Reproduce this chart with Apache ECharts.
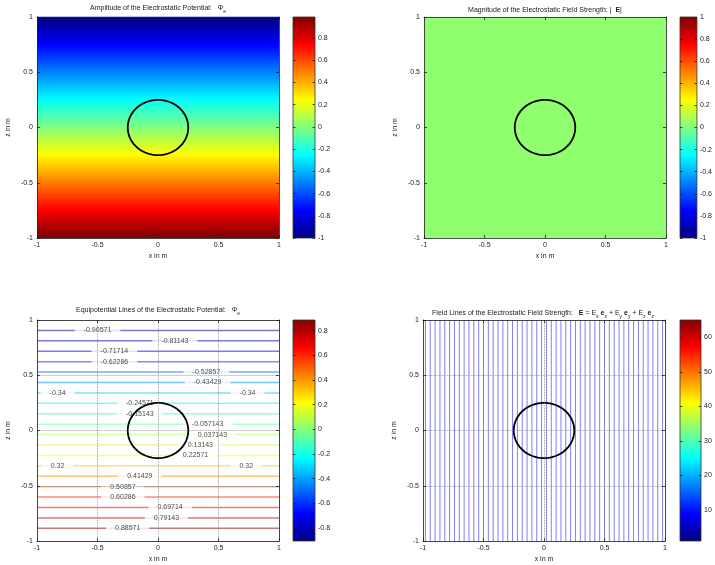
<!DOCTYPE html>
<html><head><meta charset="utf-8">
<script src="https://cdn.jsdelivr.net/npm/echarts@6/dist/echarts.min.js"></script>
<style>html,body{margin:0;padding:0;background:#fff}#c{width:715px;height:565px}</style>
</head><body><div id="c"></div>
<script>
// ---------------- data ----------------
const axisTickValues = [-1, -0.5, 0, 0.5, 1];
// potential samples (z position -> potential value) for panel 1
const potentialZ   = [1, 0.8, 0.6, 0.4, 0.2, 0, -0.2, -0.4, -0.6, -0.8, -1];
const potentialPhi = [-1, -0.8, -0.6, -0.4, -0.2, 0, 0.2, 0.4, 0.6, 0.8, 1];
// uniform field magnitude colour value (panel 2, on its colour scale)
const fieldMagnitudeValue = 0.03;
// equipotential levels and their z positions (panel 3)
const contourLevels = [-0.90571, -0.81143, -0.71714, -0.62286, -0.52857, -0.43429, -0.34, -0.24571, -0.15143, -0.057143,
                       0.037143, 0.13143, 0.22571, 0.32, 0.41429, 0.50857, 0.60286, 0.69714, 0.79143, 0.88571];
const contourZ      = [0.90571, 0.81143, 0.71714, 0.62286, 0.52857, 0.43429, 0.34, 0.24571, 0.15143, 0.057143,
                       -0.037143, -0.13143, -0.22571, -0.32, -0.41429, -0.50857, -0.60286, -0.69714, -0.79143, -0.88571];
// contour label placements: level index and x position
const labelLevelIndex = [0, 1, 2, 3, 4, 5, 6, 6, 7, 8, 9, 10, 11, 12, 13, 13, 14, 15, 16, 17, 18, 19];
const labelX          = [-0.50, 0.14, -0.36, -0.36, 0.40, 0.41, -0.83, 0.74, -0.15, -0.15, 0.41, 0.45, 0.35, 0.31, -0.83, 0.73, -0.15, -0.29, -0.29, 0.10, 0.07, -0.25];
// field line x positions (panel 4)
const fieldLineX = [-0.98, -0.94, -0.90, -0.86, -0.82, -0.78, -0.74, -0.70, -0.66, -0.62, -0.58, -0.54, -0.50, -0.46, -0.42, -0.38, -0.34,
                    -0.30, -0.26, -0.22, -0.18, -0.14, -0.10, -0.06, -0.02, 0.02, 0.06, 0.10, 0.14, 0.18, 0.22, 0.26, 0.30, 0.34,
                    0.38, 0.42, 0.46, 0.50, 0.54, 0.58, 0.62, 0.66, 0.70, 0.74, 0.78, 0.82, 0.86, 0.90, 0.94, 0.98];
// conductor circle (centre x, centre z, radius)
const circle = [0, 0, 0.25];
// colour bars: ranges and tick labels
const cb1Range = [-1, 0.99];
const cb1Ticks = [-1, -0.8, -0.6, -0.4, -0.2, 0, 0.2, 0.4, 0.6, 0.8];
const cb2Range = [-1, 1];
const cb2Ticks = [-1, -0.8, -0.6, -0.4, -0.2, 0, 0.2, 0.4, 0.6, 0.8, 1];
const cb3Range = [-0.90571, 0.88571];
const cb3Ticks = [-0.8, -0.6, -0.4, -0.2, 0, 0.2, 0.4, 0.6, 0.8];
const cb4Range = [1, 65];
const cb4Ticks = [10, 20, 30, 40, 50, 60];
const fieldLineValue = 8;

// ---------------- helpers ----------------
const FONT = '"Liberation Sans", Arial, sans-serif';
const TXT = '#222';
function clamp(v){ return Math.max(0, Math.min(1, v)); }
function jetRGB(t){
  t = clamp(t);
  return [clamp(1.5 - Math.abs(4*t - 3)), clamp(1.5 - Math.abs(4*t - 2)), clamp(1.5 - Math.abs(4*t - 1))];
}
function rgbStr(c, fade){
  fade = fade || 0;
  const f = x => Math.round((x*(1-fade) + fade) * 255);
  return 'rgb(' + f(c[0]) + ',' + f(c[1]) + ',' + f(c[2]) + ')';
}
function jetColor(v, range, fade){ return rgbStr(jetRGB((v - range[0])/(range[1]-range[0])), fade); }
function gradStops(v0, v1, range, n){
  const s = [];
  for (let i = 0; i <= n; i++){
    const v = v0 + (v1 - v0) * i / n;
    s.push({offset: i/n, color: jetColor(v, range)});
  }
  return s;
}

const PW = 242, PH = 221;
const plotPos = [{left:37, top:17}, {left:424, top:17}, {left:37, top:320}, {left:423, top:320}];
const cbPos = [{left:293, top:17, w:22}, {left:680, top:17, w:21}, {left:293, top:320, w:22}, {left:680, top:320, w:21}];
const cbRanges = [cb1Range, cb2Range, cb3Range, cb4Range];
const cbTicks = [cb1Ticks, cb2Ticks, cb3Ticks, cb4Ticks];
const gridOn = [false, false, true, true];

const grids = [], xAxes = [], yAxes = [];
const lineCol = '#222';
plotPos.forEach((p, i) => {
  grids.push({left:p.left, top:p.top, width:PW, height:PH});
  xAxes.push({gridIndex:i, type:'value', min:-1, max:1, interval:0.5, position:'bottom', z:10,
    axisLine:{show:true, onZero:false, lineStyle:{color:lineCol, width:0.8}},
    axisTick:{show:true, inside:true, length:3, lineStyle:{color:lineCol, width:0.8}},
    axisLabel:{fontSize:7, color:TXT, margin:4, fontFamily:FONT, showMinLabel:true, showMaxLabel:true},
    splitLine:{show:gridOn[i], lineStyle:{type:'dotted', color:'#888', width:0.8}},
    name:'x in m', nameLocation:'middle', nameGap:15, nameTextStyle:{fontSize:7, color:TXT, fontFamily:FONT}});
  xAxes.push({gridIndex:i, type:'value', min:-1, max:1, interval:0.5, position:'top', z:10,
    axisLine:{show:true, onZero:false, lineStyle:{color:lineCol, width:0.8}},
    axisTick:{show:true, inside:true, length:3, lineStyle:{color:lineCol, width:0.8}},
    axisLabel:{show:false}, splitLine:{show:false}});
  yAxes.push({gridIndex:i, type:'value', min:-1, max:1, interval:0.5, position:'left', z:10,
    axisLine:{show:true, onZero:false, lineStyle:{color:lineCol, width:0.8}},
    axisTick:{show:true, inside:true, length:3, lineStyle:{color:lineCol, width:0.8}},
    axisLabel:{fontSize:7, color:TXT, margin:4, fontFamily:FONT, showMinLabel:true, showMaxLabel:true},
    splitLine:{show:gridOn[i], lineStyle:{type:'dotted', color:'#888', width:0.8}},
    name:'z in m', nameLocation:'middle', nameRotate:90, nameGap:25, nameTextStyle:{fontSize:7, color:TXT, fontFamily:FONT}});
  yAxes.push({gridIndex:i, type:'value', min:-1, max:1, interval:0.5, position:'right', z:10,
    axisLine:{show:true, onZero:false, lineStyle:{color:lineCol, width:0.8}},
    axisTick:{show:true, inside:true, length:3, lineStyle:{color:lineCol, width:0.8}},
    axisLabel:{show:false}, splitLine:{show:false}});
});
cbPos.forEach((p, j) => {
  const gi = 4 + j;
  const r = cbRanges[j];
  grids.push({left:p.left, top:p.top, width:p.w, height:PH});
  xAxes.push({gridIndex:gi, type:'value', min:0, max:1, show:false});
  yAxes.push({gridIndex:gi, type:'value', min:r[0], max:r[1], position:'left', z:10,
    axisLine:{show:false}, splitLine:{show:false},
    axisTick:{show:true, inside:true, length:2.5, customValues:cbTicks[j], lineStyle:{color:lineCol, width:0.8}},
    axisLabel:{show:false}});
  yAxes.push({gridIndex:gi, type:'value', min:r[0], max:r[1], position:'right', z:10,
    axisLine:{show:false}, splitLine:{show:false},
    axisTick:{show:true, inside:true, length:2.5, customValues:cbTicks[j], lineStyle:{color:lineCol, width:0.8}},
    axisLabel:{show:true, customValues:cbTicks[j], fontSize:7, color:TXT, margin:3, fontFamily:FONT}});
});

const series = [];
// panel 1: potential field bands
const bandData = [];
for (let i = 0; i < potentialZ.length - 1; i++) bandData.push([potentialZ[i], potentialZ[i+1], potentialPhi[i], potentialPhi[i+1]]);
series.push({type:'custom', xAxisIndex:0, yAxisIndex:0, silent:true, animation:false, z:1,
  data: bandData,
  renderItem: (params, api) => {
    const zt = api.value(0), zb = api.value(1), pt = api.value(2), pb = api.value(3);
    const a = api.coord([-1, zt]), b = api.coord([1, zb]);
    return {type:'rect', shape:{x:a[0], y:a[1]-0.3, width:b[0]-a[0], height:b[1]-a[1]+0.6},
      style:{fill:new echarts.graphic.LinearGradient(0,0,0,1, gradStops(pt, pb, cb1Range, 8)), stroke:null}};
  }});
// panel 2: uniform magnitude
series.push({type:'custom', xAxisIndex:2, yAxisIndex:2, silent:true, animation:false, z:1,
  data: [[fieldMagnitudeValue]],
  renderItem: (params, api) => {
    const a = api.coord([-1, 1]), b = api.coord([1, -1]);
    return {type:'rect', shape:{x:a[0], y:a[1], width:b[0]-a[0], height:b[1]-a[1]},
      style:{fill: jetColor(api.value(0), cb2Range)}};
  }});
// panel 3: contour lines
contourLevels.forEach((lv, k) => {
  series.push({type:'line', xAxisIndex:4, yAxisIndex:4, silent:true, animation:false, symbol:'none', z:2,
    data:[[-1, contourZ[k]], [1, contourZ[k]]],
    lineStyle:{color: jetColor(lv, cb3Range, 0.48), width:1.5}});
});
series.push({type:'scatter', xAxisIndex:4, yAxisIndex:4, silent:true, animation:false, z:4,
  symbol:'rect', symbolSize:1, itemStyle:{color:'rgba(0,0,0,0)'},
  data: labelLevelIndex.map((li, n) => ({value:[labelX[n], contourZ[li]], label:{formatter: String(contourLevels[li])}})),
  label:{show:true, position:'inside', fontSize:7, color:TXT, fontFamily:FONT, backgroundColor:'#fff', padding:[1,9]}});
// panel 4: field lines
series.push({type:'custom', xAxisIndex:6, yAxisIndex:6, silent:true, animation:false, z:2,
  data: fieldLineX.map(x => [x, fieldLineValue]),
  renderItem: (params, api) => {
    const a = api.coord([api.value(0), -1]), b = api.coord([api.value(0), 1]);
    return {type:'line', shape:{x1:a[0], y1:a[1], x2:b[0], y2:b[1]},
      style:{stroke: jetColor(api.value(1), cb4Range, 0.5), lineWidth:1}};
  }});
// circles on all 4 panels
[0, 2, 4, 6].forEach(ai => {
  series.push({type:'custom', xAxisIndex:ai, yAxisIndex:ai, silent:true, animation:false, z:6,
    data:[circle],
    renderItem: (params, api) => {
      const cx = api.value(0), cz = api.value(1), r = api.value(2);
      const pts = [];
      for (let k = 0; k <= 96; k++){ const t = 2*Math.PI*k/96; pts.push(api.coord([cx + r*Math.cos(t), cz + r*Math.sin(t)])); }
      return {type:'polyline', shape:{points:pts}, style:{stroke:'#000', lineWidth:1.8, fill:null}};
    }});
});
// colour bars
cbRanges.forEach((r, j) => {
  series.push({type:'custom', xAxisIndex:8+j, yAxisIndex:8+2*j, silent:true, animation:false, z:1,
    data:[[0, r[0], r[1]]],
    renderItem: (params, api) => {
      const lo = api.value(1), hi = api.value(2);
      const a = api.coord([0, hi]), b = api.coord([1, lo]);
      return {type:'rect', shape:{x:a[0], y:a[1], width:b[0]-a[0], height:b[1]-a[1]},
        style:{fill:new echarts.graphic.LinearGradient(0,1,0,0, gradStops(lo, hi, r, 32)), stroke:'#333', lineWidth:0.8}};
    }});
});

const rich = {
  n:{fontSize:7, color:TXT, fontFamily:FONT, fontWeight:'normal', lineHeight:12, verticalAlign:'middle'},
  b:{fontSize:7, color:TXT, fontFamily:FONT, fontWeight:'bold', lineHeight:12, verticalAlign:'middle'},
  s:{fontSize:5, color:TXT, fontFamily:FONT, fontWeight:'normal', lineHeight:5, verticalAlign:'bottom'}
};
function mkTitle(text, x, y){
  return {text:text, left:x, top:y, textAlign:'center', padding:0, textStyle:{rich:rich, fontSize:7, fontWeight:'normal', color:TXT}};
}
const titles = [
  mkTitle('{n|Amplitude of the Electrostatic Potential:   Φ}{s|e}', 158, 2),
  mkTitle('{n|Magnitude of the Electrostatic Field Strength: |  }{b|E}{n||}', 545, 4),
  mkTitle('{n|Equipotential Lines of the Electrostatic Potential:   Φ}{s|e}', 158, 304),
  mkTitle('{n|Field Lines of the Electrostatic Field Strength:   }{b|E}{n| = E}{s|x}{b| e}{s|x}{n| + E}{s|y}{b| e}{s|y}{n| + E}{s|z}{b| e}{s|z}', 543, 307)
];

const chart = echarts.init(document.getElementById('c'));
chart.setOption({
  animation:false,
  backgroundColor:'#fff',
  title: titles,
  grid: grids,
  xAxis: xAxes,
  yAxis: yAxes,
  series: series
});
</script></body></html>
